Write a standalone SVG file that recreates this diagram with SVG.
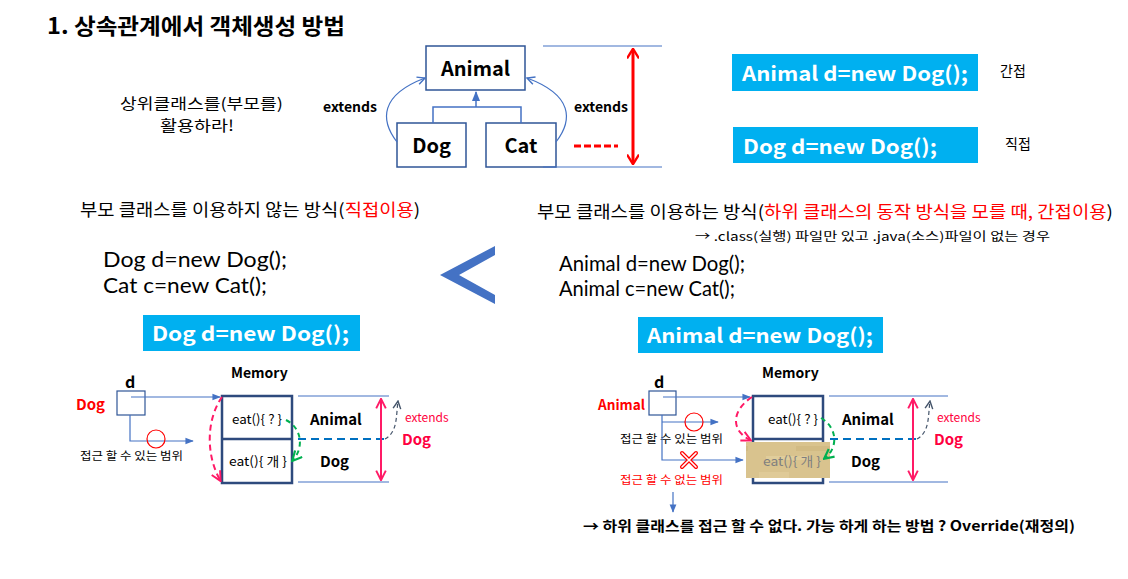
<svg xmlns="http://www.w3.org/2000/svg" width="1128" height="579" viewBox="0 0 1128 579">
  <style>
    text { font-family: "Noto Sans CJK KR", "Noto Sans", sans-serif; fill: #000; }
    .b { font-weight: bold; }
    .red { fill: #FF0000; }
    .pinkt { fill: #FF0040; }
    .white { fill: #FFFFFF; font-weight: bold; }
    .code { font-family: Lato, "Open Sans", sans-serif; font-size: 21px; }
    .box { fill: #FFFFFF; stroke: #2F5597; stroke-width: 1.5; }
    .mem { fill: #FFFFFF; stroke: #2E4A7D; stroke-width: 2.5; }
    .cls { stroke: #4472C4; stroke-width: 1.5; fill: none; }
    .thin { stroke: #4472C4; stroke-width: 1.2; fill: none; }
    .dash-blue { stroke: #0070C0; stroke-width: 2; stroke-dasharray: 8 5; fill: none; }
    .dash-pink { stroke: #FF1A66; stroke-width: 2; stroke-dasharray: 6 4; fill: none; }
    .dash-green { stroke: #00B050; stroke-width: 2; stroke-dasharray: 5 4; fill: none; }
    .dash-navy { stroke: #44546A; stroke-width: 1.2; stroke-dasharray: 4 3; fill: none; }
    .code-bg { fill: #00B0F0; }
  </style>
  <defs>
    <marker id="arrBlue" viewBox="0 0 10 10" refX="9" refY="5" markerWidth="7" markerHeight="7" orient="auto-start-reverse">
      <path d="M0,1 L10,5 L0,9 z" fill="#4472C4"/>
    </marker>
    <marker id="openBlue" viewBox="0 0 10 10" refX="9" refY="5" markerWidth="8" markerHeight="8" orient="auto">
      <path d="M1,1 L9,5 L1,9" fill="none" stroke="#4472C4" stroke-width="1.5"/>
    </marker>
    <marker id="openNavy" viewBox="0 0 10 10" refX="9" refY="5" markerWidth="8" markerHeight="8" orient="auto">
      <path d="M1,1 L9,5 L1,9" fill="none" stroke="#44546A" stroke-width="1.5"/>
    </marker>
    <marker id="redHead" viewBox="0 0 10 10" refX="8" refY="5" markerWidth="4" markerHeight="4" orient="auto-start-reverse">
      <path d="M1,0 L9,5 L1,10" fill="none" stroke="#FF0000" stroke-width="2"/>
    </marker>
    <marker id="pinkHead" viewBox="0 0 10 10" refX="8" refY="5" markerWidth="6" markerHeight="6" orient="auto-start-reverse">
      <path d="M1,1 L9,5 L1,9" fill="none" stroke="#FF1A66" stroke-width="1.6"/>
    </marker>
    <marker id="greenHead" viewBox="0 0 10 10" refX="8" refY="5" markerWidth="6" markerHeight="6" orient="auto">
      <path d="M1,1 L9,5 L1,9" fill="none" stroke="#00B050" stroke-width="1.8"/>
    </marker>
    <pattern id="parchment" width="84" height="36" patternUnits="userSpaceOnUse">
      <rect width="84" height="36" fill="#D9C38E"/>
      <rect x="3" y="4" width="30" height="6" fill="#E2CE9C" opacity="0.7"/>
      <rect x="40" y="14" width="36" height="5" fill="#CDB57D" opacity="0.6"/>
      <rect x="10" y="24" width="44" height="4" fill="#E5D3A4" opacity="0.6"/>
    </pattern>
  </defs>

  <!-- title -->
  <text id="title" x="47" y="34" class="b" font-size="22" textLength="298" lengthAdjust="spacingAndGlyphs">1. 상속관계에서 객체생성 방법</text>

  <!-- class hierarchy -->
  <g id="node-animal">
    <rect class="box" x="426" y="46" width="99" height="44"/>
    <text x="475.5" y="76" class="b" font-size="20" text-anchor="middle">Animal</text>
  </g>
  <g id="node-dog">
    <rect class="box" x="397" y="123" width="69" height="44"/>
    <text x="431.5" y="153" class="b" font-size="20" text-anchor="middle">Dog</text>
  </g>
  <g id="node-cat">
    <rect class="box" x="486" y="123" width="70" height="44"/>
    <text x="521" y="153" class="b" font-size="20" text-anchor="middle">Cat</text>
  </g>
  <g id="note-parent">
    <text x="120" y="109" font-size="15" textLength="163" lengthAdjust="spacingAndGlyphs">상위클래스를(부모를)</text>
    <text x="160" y="131" font-size="15" textLength="74" lengthAdjust="spacingAndGlyphs">활용하라!</text>
  </g>

  <g id="connectors">
    <!-- inheritance tree -->
    <path class="cls" d="M433,123 V107 H521 V123"/>
    <path class="cls" d="M476,107 V92" marker-end="url(#arrBlue)"/>
    <path class="thin" d="M397,142 C380,120 380,95 425,78" marker-end="url(#openBlue)"/>
    <path class="thin" d="M556,142 C573,120 573,95 527,78" marker-end="url(#openBlue)"/>
    <!-- depth marker -->
    <path class="thin" d="M543,46 H662 M543,167 H662"/>
    <line x1="633" y1="50" x2="633" y2="163" stroke="#FF0000" stroke-width="3" marker-start="url(#redHead)" marker-end="url(#redHead)"/>
    <line x1="574" y1="146" x2="618" y2="146" stroke="#FF0000" stroke-width="3" stroke-dasharray="7 3"/>
  </g>
  <text x="323" y="112" class="b" font-size="14">extends</text>
  <text x="574" y="112" class="b" font-size="14">extends</text>

  <!-- summary code boxes -->
  <g id="code-indirect">
    <rect class="code-bg" x="732" y="54" width="246" height="37"/>
    <text x="742" y="81" class="white" font-size="20" textLength="226" lengthAdjust="spacingAndGlyphs">Animal d=new Dog();</text>
    <text x="1000" y="76" font-size="14">간접</text>
  </g>
  <g id="code-direct">
    <rect class="code-bg" x="733" y="127" width="245" height="36"/>
    <text x="743" y="154" class="white" font-size="20" textLength="194" lengthAdjust="spacingAndGlyphs">Dog d=new Dog();</text>
    <text x="1005" y="149" font-size="14">직접</text>
  </g>

  <!-- left: direct creation -->
  <g id="direct-way">
    <text x="80" y="216" font-size="17" textLength="340" lengthAdjust="spacingAndGlyphs">부모 클래스를 이용하지 않는 방식(<tspan class="red">직접이용</tspan>)</text>
    <text x="103" y="267" class="code" textLength="184" lengthAdjust="spacingAndGlyphs">Dog d=new Dog();</text>
    <text x="103" y="293" class="code" textLength="164" lengthAdjust="spacingAndGlyphs">Cat c=new Cat();</text>
    <rect class="code-bg" x="143" y="315" width="217" height="36"/>
    <text x="152" y="341" class="white" font-size="20" textLength="197" lengthAdjust="spacingAndGlyphs">Dog d=new Dog();</text>
  </g>

  <!-- comparison chevron -->
  <polygon id="chevron" points="495,246 440,275 495,304 495,295 459,275 495,255" fill="#4472C4"/>

  <!-- right: indirect creation -->
  <g id="indirect-way">
    <text x="537" y="218" font-size="17" textLength="576" lengthAdjust="spacingAndGlyphs">부모 클래스를 이용하는 방식(<tspan class="red">하위 클래스의 동작 방식을 모를 때, 간접이용</tspan>)</text>
    <text x="695" y="241" font-size="12" textLength="355" lengthAdjust="spacingAndGlyphs">→ .class(실행) 파일만 있고 .java(소스)파일이 없는 경우</text>
    <text x="559" y="271" class="code" textLength="186" lengthAdjust="spacingAndGlyphs">Animal d=new Dog();</text>
    <text x="559" y="296" class="code" textLength="176" lengthAdjust="spacingAndGlyphs">Animal c=new Cat();</text>
    <rect class="code-bg" x="638" y="317" width="245" height="36"/>
    <text x="647" y="343" class="white" font-size="20" textLength="226" lengthAdjust="spacingAndGlyphs">Animal d=new Dog();</text>
  </g>

  <!-- left memory model -->
  <g id="ref-dog">
    <text x="125" y="388" class="b" font-size="16">d</text>
    <text x="76" y="410" class="b red" font-size="15">Dog</text>
    <rect x="117" y="391" width="28" height="24" fill="none" stroke="#2F5597" stroke-width="1.2"/>
    <text x="80" y="460" font-size="11" textLength="103" lengthAdjust="spacingAndGlyphs">접근 할 수 있는 범위</text>
  </g>
  <g id="memory-left">
    <text x="231" y="378" class="b" font-size="14">Memory</text>
    <rect class="mem" x="222" y="396" width="70" height="87"/>
    <line x1="222" y1="439" x2="292" y2="439" stroke="#2E4A7D" stroke-width="2.5"/>
    <text x="232" y="424" font-size="13" textLength="50" lengthAdjust="spacingAndGlyphs">eat(){ ? }</text>
    <text x="229" y="466" font-size="13" textLength="58" lengthAdjust="spacingAndGlyphs">eat(){ 개 }</text>
    <text x="310" y="425" class="b" font-size="15">Animal</text>
    <text x="320" y="467" class="b" font-size="15">Dog</text>
    <text x="405" y="422" class="pinkt" font-size="12">extends</text>
    <text x="402" y="445" class="b pinkt" font-size="15">Dog</text>
  </g>

  <!-- right memory model -->
  <g id="ref-animal">
    <text x="654" y="388" class="b" font-size="16">d</text>
    <text x="598" y="410" class="b red" font-size="14" textLength="47" lengthAdjust="spacingAndGlyphs">Animal</text>
    <rect x="649" y="391" width="27" height="24" fill="none" stroke="#2F5597" stroke-width="1.2"/>
    <text x="620" y="443" font-size="11" textLength="103" lengthAdjust="spacingAndGlyphs">접근 할 수 있는 범위</text>
    <text x="620" y="484" font-size="11" class="red" textLength="103" lengthAdjust="spacingAndGlyphs">접근 할 수 없는 범위</text>
  </g>
  <g id="memory-right">
    <text x="762" y="378" class="b" font-size="14">Memory</text>
    <rect class="mem" x="753" y="396" width="70" height="87"/>
    <line x1="753" y1="439" x2="823" y2="439" stroke="#2E4A7D" stroke-width="2.5"/>
    <rect x="746" y="442" width="84" height="36" fill="url(#parchment)"/>
    <text x="768" y="424" font-size="13" textLength="50" lengthAdjust="spacingAndGlyphs">eat(){ ? }</text>
    <text x="763" y="466" font-size="13" style="fill:#7F7F7F" textLength="58" lengthAdjust="spacingAndGlyphs">eat(){ 개 }</text>
    <text x="842" y="425" class="b" font-size="15">Animal</text>
    <text x="851" y="467" class="b" font-size="15">Dog</text>
    <text x="937" y="422" class="pinkt" font-size="12">extends</text>
    <text x="934" y="445" class="b pinkt" font-size="15">Dog</text>
  </g>

  <g id="connectors-memory">
    <!-- left -->
    <path class="thin" d="M131,397 H220" marker-end="url(#arrBlue)"/>
    <path class="thin" d="M130,415 V441 H193" marker-end="url(#arrBlue)"/>
    <circle cx="156" cy="439" r="9" fill="none" stroke="#FF0000" stroke-width="1.2"/>
    <path class="thin" d="M298,396 H389 M298,482 H389"/>
    <line class="dash-blue" x1="298" y1="439" x2="385" y2="439"/>
    <line x1="381" y1="400" x2="381" y2="479" stroke="#FF1A66" stroke-width="2" marker-start="url(#pinkHead)" marker-end="url(#pinkHead)"/>
    <path class="dash-navy" d="M385,439 C398,432 396,415 398,401" marker-end="url(#openNavy)"/>
    <path class="dash-pink" d="M222,397 C206,420 206,455 220,480" marker-end="url(#pinkHead)"/>
    <path class="dash-green" d="M286,420 C302,428 304,448 293,460" marker-end="url(#greenHead)"/>

    <!-- right -->
    <path class="thin" d="M663,397 H750" marker-end="url(#arrBlue)"/>
    <path class="thin" d="M662,415 V460 H743" marker-end="url(#arrBlue)"/>
    <path class="thin" d="M662,422 H718" marker-end="url(#arrBlue)"/>
    <circle cx="694" cy="422" r="9" fill="none" stroke="#FF0000" stroke-width="1.2"/>
    <g stroke="#FF0000" stroke-width="4" stroke-linecap="round">
      <path d="M682,453 L696,467 M696,453 L682,467"/>
    </g>
    <g stroke="#FFFFFF" stroke-width="1.6" stroke-linecap="round">
      <path d="M682,453 L696,467 M696,453 L682,467"/>
    </g>
    <path class="thin" d="M673,492 V512" marker-end="url(#arrBlue)"/>
    <path class="thin" d="M829,396 H948 M829,482 H948"/>
    <line class="dash-blue" x1="830" y1="439" x2="918" y2="439"/>
    <line x1="913" y1="400" x2="913" y2="479" stroke="#FF1A66" stroke-width="2" marker-start="url(#pinkHead)" marker-end="url(#pinkHead)"/>
    <path class="dash-navy" d="M917,439 C930,432 928,415 930,401" marker-end="url(#openNavy)"/>
    <path class="dash-pink" d="M752,397 C732,410 730,430 750,440" marker-end="url(#pinkHead)"/>
    <path class="dash-green" d="M821,418 C838,428 838,448 825,458" marker-end="url(#greenHead)"/>
  </g>

  <text id="conclusion" x="583" y="531" class="b" font-size="14" textLength="492" lengthAdjust="spacingAndGlyphs">→ 하위 클래스를 접근 할 수 없다. 가능 하게 하는 방법 ? Override(재정의)</text>
</svg>
